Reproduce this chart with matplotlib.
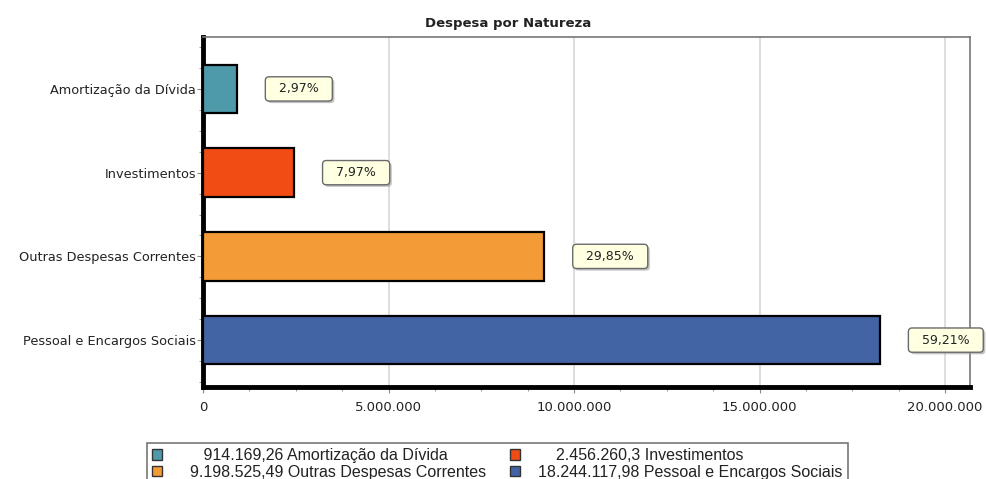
import matplotlib
matplotlib.use("Agg")
import matplotlib.pyplot as plt
from matplotlib.ticker import FuncFormatter, MultipleLocator
from matplotlib.patches import Patch
import matplotlib.patheffects as pe

categories = ["Amortização da Dívida", "Investimentos", "Outras Despesas Correntes", "Pessoal e Encargos Sociais"]
values = [914169.26, 2456260.3, 9198525.49, 18244117.98]
percent_labels = ["2,97%", "7,97%", "29,85%", "59,21%"]
legend_labels = ["914.169,26 Amortização da Dívida", "2.456.260,3 Investimentos",
                 "9.198.525,49 Outras Despesas Correntes", "18.244.117,98 Pessoal e Encargos Sociais"]
colors = ["#4e9aab", "#f04c14", "#f39b37", "#4264a4"]
title = "Despesa por Natureza"

# visual left padding (spaces) used only to mimic the alignment in the legend
legend_pads = [5, 4, 2, 0]

W, H = 987, 479
fig = plt.figure(figsize=(W / 100, H / 100), dpi=100)
ax = fig.add_axes([203 / W, 1 - 387 / H, (970 - 203) / W, (387 - 37) / H])

ypos = list(range(len(categories)))
ax.barh(ypos, values, height=0.58, color=colors, edgecolor="black", linewidth=1.6, zorder=3)

ax.set_ylim(3.56, -0.62)
ax.set_xlim(0, 20.67e6)
ax.set_yticks(ypos)
ax.set_yticklabels(categories, fontsize=9.3, color="#222222")
ax.yaxis.set_minor_locator(MultipleLocator(0.25))
ax.xaxis.set_major_locator(MultipleLocator(5e6))
ax.xaxis.set_minor_locator(MultipleLocator(1.25e6))
ax.xaxis.set_major_formatter(FuncFormatter(lambda v, p: f"{int(v):,}".replace(",", ".")))
ax.tick_params(axis="x", labelsize=9.5, labelcolor="#222222", length=4, color="#888888", pad=6)
ax.tick_params(axis="y", length=4, color="#888888", pad=1)
ax.tick_params(which="minor", length=3, color="#888888")
ax.grid(axis="x", which="major", color="#d8d8d8", linewidth=1.2, zorder=0)

for s in ["left", "bottom"]:
    ax.spines[s].set_linewidth(3.5)
    ax.spines[s].set_color("black")
for s in ["top", "right"]:
    ax.spines[s].set_linewidth(1.2)
    ax.spines[s].set_color("#777777")

for i, (v, lab) in enumerate(zip(values, percent_labels)):
    ann = ax.annotate("  " + lab + "  ", xy=(v, i), xytext=(24.5, 0), textcoords="offset points",
                      ha="left", va="center", fontsize=9, color="#222222", zorder=5,
                      bbox=dict(boxstyle="round,pad=0.45,rounding_size=0.3", fc="#ffffe2", ec="#6a6a6a", lw=1.0))
    ann.get_bbox_patch().set_path_effects([pe.SimplePatchShadow(offset=(1.5, -1.5), shadow_rgbFace="#999999", alpha=0.6), pe.Normal()])

fig.text(508 / W, 1 - 23 / H, title, ha="center", va="center", fontsize=9.5, fontweight="bold", color="#222222")

order = [0, 2, 1, 3]
handles = [Patch(facecolor=colors[k], edgecolor="#333333", linewidth=1.0) for k in order]
labels = [" " * legend_pads[k] + legend_labels[k] for k in order]
leg = fig.legend(handles, labels, ncol=2, loc="upper left",
                 bbox_to_anchor=(147 / W, 1 - 443 / H),
                 frameon=True, fancybox=False, edgecolor="#555555",
                 handlelength=0.65, handleheight=0.65, handletextpad=1.15, labelspacing=0.12,
                 borderpad=0.3, borderaxespad=0.0, columnspacing=1.5,
                 prop={"family": "Liberation Sans", "size": 11.5})
leg.get_frame().set_linewidth(1.2)
for t in leg.get_texts():
    t.set_color("#222222")

fig.savefig("out.png", dpi=100)
